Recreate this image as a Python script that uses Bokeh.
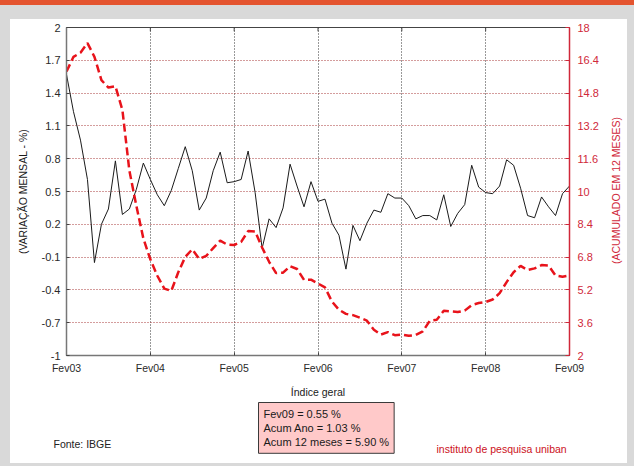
import math
from bokeh.plotting import figure
from bokeh.layouts import column, row
from bokeh.models import Range1d, LinearAxis, FixedTicker, Label, GlobalInlineStyleSheet
from bokeh.embed import file_html
from bokeh.resources import INLINE

# ---------------- data ----------------
months = list(range(73))  # Fev03 .. Fev09
mensal = [1.57, 1.23, 0.97, 0.61, -0.15, 0.20, 0.34, 0.78, 0.29, 0.34, 0.52,
          0.76, 0.61, 0.47, 0.37, 0.51, 0.71, 0.91, 0.69, 0.33, 0.44, 0.69, 0.86,
          0.58, 0.59, 0.61, 0.87, 0.49, -0.02, 0.25, 0.17, 0.35, 0.75, 0.55, 0.36,
          0.59, 0.41, 0.43, 0.21, 0.10, -0.21, 0.19, 0.05, 0.21, 0.33, 0.31, 0.48,
          0.44, 0.44, 0.37, 0.25, 0.28, 0.28, 0.24, 0.47, 0.18, 0.30, 0.38, 0.74,
          0.54, 0.49, 0.48, 0.55, 0.79, 0.74, 0.53, 0.28, 0.26, 0.45, 0.36, 0.28,
          0.48, 0.55]
acum12 = [15.85, 16.57, 16.77, 17.24, 16.57, 15.43, 15.07, 15.14, 13.98, 11.02, 9.30,
          7.71, 6.69, 5.89, 5.26, 5.15, 6.06, 6.81, 7.18, 6.71, 6.86, 7.24, 7.60,
          7.41, 7.39, 7.54, 8.07, 8.05, 7.27, 6.57, 6.02, 6.04, 6.36, 6.22, 5.69,
          5.70, 5.51, 5.32, 4.63, 4.23, 4.03, 3.97, 3.84, 3.70, 3.26, 3.02, 3.14,
          2.99, 3.02, 2.96, 3.00, 3.18, 3.69, 3.74, 4.18, 4.15, 4.12, 4.19, 4.46,
          4.56, 4.61, 4.73, 5.04, 5.58, 6.06, 6.37, 6.17, 6.25, 6.41, 6.39, 5.90,
          5.84, 5.90]
x_tick_pos = [0, 12, 24, 36, 48, 60, 72]
x_tick_labels = ["Fev03", "Fev04", "Fev05", "Fev06", "Fev07", "Fev08", "Fev09"]
left_ticks = [-1, -0.7, -0.4, -0.1, 0.2, 0.5, 0.8, 1.1, 1.4, 1.7, 2]
left_tick_labels = ["-1", "-0.7", "-0.4", "-0.1", "0.2", "0.5", "0.8", "1.1", "1.4", "1.7", "2"]
right_ticks = [2, 3.6, 5.2, 6.8, 8.4, 10, 11.6, 13.2, 14.8, 16.4, 18]
right_tick_labels = ["2", "3.6", "5.2", "6.8", "8.4", "10", "11.6", "13.2", "14.8", "16.4", "18"]
right_axis_title = "(ACUMULADO EM 12 MESES)"
info_lines = ["Fev09 = 0.55 %", "Acum Ano = 1.03 %", "Acum 12 meses = 5.90 %"]
source_text = "Fonte: IBGE"
brand_text = "instituto de pesquisa uniban"

FONT = "Liberation Sans"
RED = "#e8131b"
AXRED = "#d0283a"

page_css = GlobalInlineStyleSheet(css="""
html { background: linear-gradient(to bottom, #e4542f 0px, #e4542f 5px, #d9d9d9 5px) !important; }
body { margin: 19px 7px 3px 10px !important; background: transparent !important; }
""")

W = 617
W_STRIP = 19
W_MAIN = W - W_STRIP
H_MAIN = 382
H_FOOT = 62

p = figure(width=W_MAIN, height=H_MAIN, output_backend="svg", toolbar_location=None,
           x_range=Range1d(0, 72), y_range=Range1d(-1, 2),
           min_border_left=56, min_border_right=W_MAIN - 559, min_border_top=8,
           min_border_bottom=46,
           background_fill_color="white", border_fill_color="white",
           outline_line_color="#444444")
p.extra_y_ranges = {"acum": Range1d(2, 18)}

# grids
p.xgrid.ticker = FixedTicker(ticks=x_tick_pos)
p.ygrid.ticker = FixedTicker(ticks=left_ticks)
p.xgrid.grid_line_color = "#333333"
p.xgrid.grid_line_dash = "1 2"
p.ygrid.grid_line_color = "#a83a3a"
p.ygrid.grid_line_dash = "1 2"

# bottom axis
xa = p.xaxis[0]
xa.ticker = FixedTicker(ticks=x_tick_pos)
xa.major_label_overrides = dict(zip(x_tick_pos, x_tick_labels))
xa.axis_label = "Índice geral"

# left axis
ya = p.yaxis[0]
ya.ticker = FixedTicker(ticks=left_ticks)
ya.major_label_overrides = dict(zip(left_ticks, left_tick_labels))
ya.axis_label = "(VARIAÇÃO MENSAL - %)"

for ax in (xa, ya):
    ax.axis_line_color = "#777777"
    ax.axis_line_width = 1.5
    ax.major_tick_in = 3
    ax.major_tick_out = 0
    ax.major_tick_line_color = "#444444"
    ax.minor_tick_line_color = None
    ax.major_label_text_font = FONT
    ax.major_label_text_color = "#2a2a2a"
    ax.axis_label_text_font = FONT
    ax.axis_label_text_font_style = "normal"
    ax.axis_label_text_color = "#1a1a1a"
    ax.axis_label_text_font_size = "10.5px"
xa.major_label_text_font_size = "10.5px"
xa.major_label_standoff = 6
xa.axis_label_standoff = 9
ya.major_label_text_font_size = "11px"
ya.major_label_standoff = 6
ya.axis_label_standoff = 10

# right axis (its title is drawn in a narrow strip to read bottom-to-top)
ra = LinearAxis(y_range_name="acum", ticker=FixedTicker(ticks=right_ticks))
ra.major_label_overrides = dict(zip(right_ticks, right_tick_labels))
ra.axis_line_color = AXRED
ra.axis_line_width = 1.5
ra.major_tick_in = 4
ra.major_tick_out = 0
ra.major_tick_line_color = AXRED
ra.minor_tick_line_color = None
ra.major_label_text_font = FONT
ra.major_label_text_font_size = "11px"
ra.major_label_text_color = AXRED
ra.major_label_standoff = 8
p.add_layout(ra, "right")

# small inward ticks along the top edge at the year positions
top_y = p.y_range.end
p.segment(x0=x_tick_pos, y0=[top_y] * len(x_tick_pos), x1=x_tick_pos,
          y1=[top_y - 0.035] * len(x_tick_pos), line_color="#444444", line_width=1)

# series
p.line(months, mensal, line_color="#1a1a1a", line_width=1)
p.line(months, acum12, y_range_name="acum", line_color=RED, line_width=2.5, line_dash="8 4")


def blank(width, height):
    g = figure(width=width, height=height, output_backend="svg", toolbar_location=None,
               x_range=Range1d(0, width), y_range=Range1d(0, height),
               min_border=0, min_border_left=0, min_border_right=0,
               min_border_top=0, min_border_bottom=0,
               background_fill_color="white", border_fill_color="white",
               outline_line_color=None)
    g.axis.visible = False
    g.grid.visible = False
    return g


# ---------------- right strip with the right axis title ----------------
s = blank(W_STRIP, H_MAIN)
s.add_layout(Label(x=7, y=H_MAIN - 171, text=right_axis_title, angle=math.pi / 2,
                   text_align="center", text_baseline="middle", text_font=FONT,
                   text_font_size="10.5px", text_color=AXRED))

# ---------------- footer with the texts below the chart ----------------
f = blank(W, H_FOOT)
f.add_layout(Label(x=248, y=61, text="\n".join(info_lines), text_align="left",
                   text_baseline="top", text_font=FONT, text_font_size="11px",
                   text_color="#1a1a1a", text_line_height=1.2, padding=5,
                   background_fill_color="#ffc9c9", border_line_color="#3a3a3a",
                   border_line_width=1))
f.add_layout(Label(x=43, y=20, text=source_text, text_align="left",
                   text_baseline="middle", text_font=FONT, text_font_size="10.5px",
                   text_color="#222222"))
f.add_layout(Label(x=426, y=15, text=brand_text, text_align="left",
                   text_baseline="middle", text_font=FONT, text_font_size="10.5px",
                   text_color="#cc1122"))

for fig in (p, s, f):
    try:
        fig.frame_align = False
    except Exception:
        pass

top = row(p, s, spacing=0)
layout = column(top, f, spacing=0)
layout.stylesheets = [page_css]
layout.styles = {"background-color": "white"}

open("out.html", "w").write(file_html(layout, INLINE))
